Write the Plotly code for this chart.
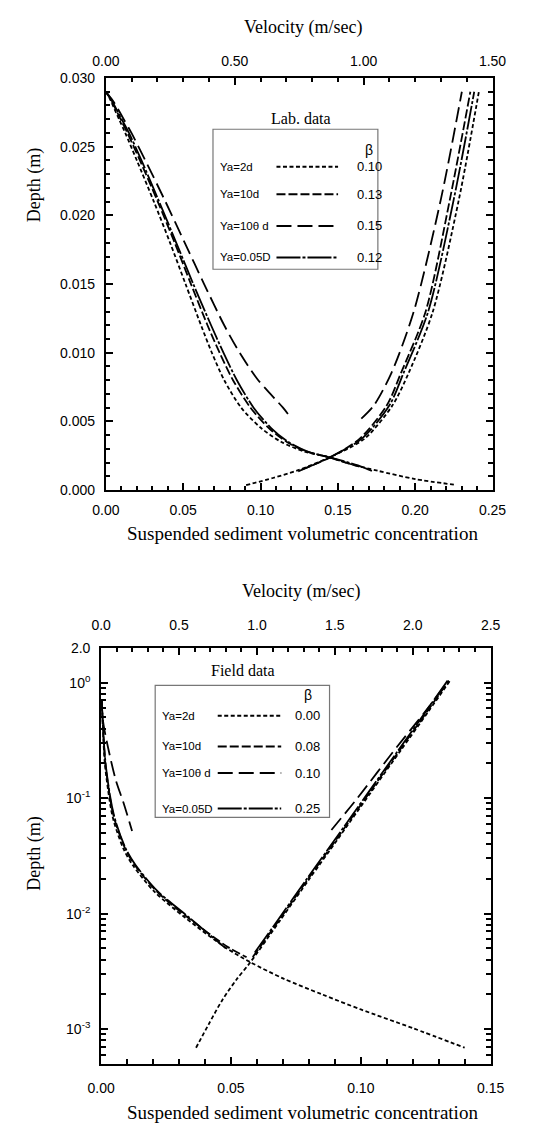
import plotly.graph_objects as go

W, H = 534, 1133

# ---------------- DATA ----------------
# Lab data: concentration profiles (concentration, depth m)
lab_c_2d_conc = [0.0, 0.0025, 0.0045, 0.0085, 0.0125, 0.020, 0.031, 0.0415, 0.0515, 0.0615, 0.0685, 0.0765, 0.0875, 0.1005, 0.1135, 0.1285, 0.144, 0.158, 0.176, 0.200, 0.225]
lab_c_2d_depth = [0.029, 0.0285, 0.028, 0.027, 0.026, 0.024, 0.021, 0.018, 0.015, 0.012, 0.010, 0.008, 0.006, 0.0045, 0.0035, 0.0028, 0.0024, 0.0019, 0.0014, 0.0008, 0.0004]
lab_c_10d_conc = [0.0, 0.0028, 0.0051, 0.0095, 0.0139, 0.022, 0.0335, 0.0445, 0.055, 0.0657, 0.0735, 0.0822, 0.0935, 0.1055, 0.117, 0.130, 0.144, 0.155, 0.164]
lab_c_10d_depth = [0.029, 0.0285, 0.028, 0.027, 0.026, 0.024, 0.021, 0.018, 0.015, 0.012, 0.010, 0.008, 0.006, 0.0045, 0.0035, 0.0028, 0.0024, 0.0020, 0.0017]
lab_c_100d_conc = [0.0, 0.0035, 0.0065, 0.0115, 0.0165, 0.0255, 0.0385, 0.051, 0.0635, 0.0765, 0.0865, 0.0985, 0.1145, 0.120]
lab_c_100d_depth = [0.029, 0.0285, 0.028, 0.027, 0.026, 0.024, 0.021, 0.018, 0.015, 0.012, 0.010, 0.008, 0.006, 0.0052]
lab_c_005D_conc = [0.0, 0.003, 0.0055, 0.0102, 0.0149, 0.023, 0.0344, 0.0455, 0.0565, 0.068, 0.076, 0.0847, 0.0955, 0.107, 0.118, 0.1305, 0.144, 0.163, 0.172]
lab_c_005D_depth = [0.029, 0.0285, 0.028, 0.027, 0.026, 0.024, 0.021, 0.018, 0.015, 0.012, 0.010, 0.008, 0.006, 0.0045, 0.0035, 0.0028, 0.0024, 0.0018, 0.0014]

# Lab data: velocity profiles (m/s, depth m)
lab_v_2d_vel = [0.544, 0.648, 0.746, 0.870, 1.004, 1.112, 1.175, 1.268, 1.370, 1.447]
lab_v_2d_depth = [0.00036, 0.00088, 0.00145, 0.0024, 0.00375, 0.00617, 0.00854, 0.01297, 0.0212, 0.029]
lab_v_10d_vel = [0.760, 0.872, 0.985, 1.090, 1.145, 1.240, 1.335, 1.414]
lab_v_10d_depth = [0.0015, 0.0024, 0.00375, 0.00617, 0.00854, 0.01297, 0.0212, 0.029]
lab_v_100d_vel = [0.991, 1.040, 1.108, 1.194, 1.300, 1.381]
lab_v_100d_depth = [0.0052, 0.00617, 0.00854, 0.01297, 0.0212, 0.029]
lab_v_005D_vel = [0.746, 0.870, 0.993, 1.100, 1.155, 1.250, 1.350, 1.429]
lab_v_005D_depth = [0.00136, 0.0024, 0.00375, 0.00617, 0.00854, 0.01297, 0.0212, 0.029]

# Field data: concentration profiles
field_c_2d_conc = [0.0002, 0.0008, 0.0014, 0.0026, 0.0038, 0.0050, 0.0086, 0.0122, 0.0205, 0.0324, 0.0478, 0.0574, 0.070, 0.085, 0.100, 0.120, 0.140]
field_c_2d_depth = [0.70, 0.34, 0.20, 0.12, 0.080, 0.0614, 0.0363, 0.0262, 0.0155, 0.0092, 0.0051, 0.0038, 0.00275, 0.0020, 0.00148, 0.00102, 0.00069]
field_c_10d_conc = [0.0002, 0.0009, 0.0016, 0.0029, 0.0042, 0.0055, 0.0093, 0.0130, 0.0215, 0.0335, 0.0490, 0.0560]
field_c_10d_depth = [0.70, 0.34, 0.20, 0.12, 0.080, 0.0614, 0.0363, 0.0262, 0.0155, 0.0092, 0.0051, 0.0042]
field_c_100d_conc = [0.0001, 0.0008, 0.0026, 0.0056, 0.0086, 0.0119]
field_c_100d_depth = [0.72, 0.45, 0.277, 0.144, 0.091, 0.052]
field_c_005D_conc = [0.0002, 0.0009, 0.0017, 0.0030, 0.0044, 0.0057, 0.0095, 0.0133, 0.0219, 0.0340, 0.0480]
field_c_005D_depth = [0.70, 0.34, 0.20, 0.12, 0.080, 0.0614, 0.0363, 0.0262, 0.0155, 0.0092, 0.0050]

# Field data: velocity profiles
field_v_2d_vel = [0.609, 0.690, 0.778, 0.870, 0.958, 1.145, 1.338, 1.519, 1.729, 1.923, 2.103, 2.240]
field_v_2d_depth = [0.00069, 0.0011, 0.00179, 0.0027, 0.0038, 0.0086, 0.0201, 0.0442, 0.111, 0.259, 0.569, 1.04]
field_v_10d_vel = [0.973, 1.137, 1.330, 1.511, 1.721, 1.915, 2.095, 2.232]
field_v_10d_depth = [0.0042, 0.0086, 0.0201, 0.0442, 0.111, 0.259, 0.569, 1.04]
field_v_100d_vel = [1.478, 1.645, 1.898, 2.075, 2.226]
field_v_100d_depth = [0.053, 0.100, 0.277, 0.55, 1.02]
field_v_005D_vel = [0.986, 1.129, 1.322, 1.503, 1.713, 1.907, 2.087, 2.224]
field_v_005D_depth = [0.0046, 0.0086, 0.0201, 0.0442, 0.111, 0.259, 0.569, 1.04]

# Legend texts
series_names = ["Ya=2d", "Ya=10d", "Ya=10θ d", "Ya=0.05D"]
lab_beta = ["0.10", "0.13", "0.15", "0.12"]
field_beta = ["0.00", "0.08", "0.10", "0.25"]

# Tick values
log_major_vals = [0.001, 0.01, 0.1, 1, 2]
log_major_text = ["10<sup>-3</sup>", "10<sup>-2</sup>", "10<sup>-1</sup>", "10<sup>0</sup>", "2.0"]
log_minor_vals = [m * 10 ** e for e in (-4, -3, -2, -1) for m in range(2, 10) if 5e-4 <= m * 10 ** e <= 2]

# ---------------- STYLES ----------------
dashes = ["4px,2.5px", "9px,3px", "15px,6px", "24px,2px,3px,2px"]
LW = 1.8
TICKFONT = dict(family="Liberation Sans, Arial, sans-serif", size=14, color="black")
SERIF = "Liberation Serif, Times New Roman, serif"
SANS = "Liberation Sans, Arial, sans-serif"

fig = go.Figure()

lab_conc = [(lab_c_2d_conc, lab_c_2d_depth), (lab_c_10d_conc, lab_c_10d_depth),
            (lab_c_100d_conc, lab_c_100d_depth), (lab_c_005D_conc, lab_c_005D_depth)]
lab_vel = [(lab_v_2d_vel, lab_v_2d_depth), (lab_v_10d_vel, lab_v_10d_depth),
           (lab_v_100d_vel, lab_v_100d_depth), (lab_v_005D_vel, lab_v_005D_depth)]
field_conc = [(field_c_2d_conc, field_c_2d_depth), (field_c_10d_conc, field_c_10d_depth),
              (field_c_100d_conc, field_c_100d_depth), (field_c_005D_conc, field_c_005D_depth)]
field_vel = [(field_v_2d_vel, field_v_2d_depth), (field_v_10d_vel, field_v_10d_depth),
             (field_v_100d_vel, field_v_100d_depth), (field_v_005D_vel, field_v_005D_depth)]

for i in range(4):
    ln = dict(color="black", width=LW, dash=dashes[i], shape="spline", smoothing=0.8)
    fig.add_trace(go.Scatter(x=lab_conc[i][0], y=lab_conc[i][1], mode="lines", line=ln,
                             xaxis="x", yaxis="y", showlegend=False, name=series_names[i]))
    fig.add_trace(go.Scatter(x=lab_vel[i][0], y=lab_vel[i][1], mode="lines", line=ln,
                             xaxis="x2", yaxis="y", showlegend=False, name=series_names[i]))
    fig.add_trace(go.Scatter(x=field_conc[i][0], y=field_conc[i][1], mode="lines", line=ln,
                             xaxis="x3", yaxis="y2", showlegend=False, name=series_names[i]))
    fig.add_trace(go.Scatter(x=field_vel[i][0], y=field_vel[i][1], mode="lines", line=ln,
                             xaxis="x4", yaxis="y2", showlegend=False, name=series_names[i]))

# invisible anchor trace so the minor-tick log axis is drawn
fig.add_trace(go.Scatter(x=[0.0], y=[1.0], xaxis="x3", yaxis="y3", mode="markers",
                         marker=dict(opacity=0), hoverinfo="skip", showlegend=False))


def pxx(x):
    return x / W


def pxy(y):
    return 1 - y / H


top_x = [pxx(97), pxx(505)]
top_y = [pxy(489), pxy(71)]
bot_x = [pxx(92), pxx(503)]
bot_y = [pxy(1071), pxy(649)]

common = dict(showline=True, linecolor="black", linewidth=2, ticks="inside", ticklen=7,
              tickwidth=1.8, tickcolor="black", showgrid=False, zeroline=False,
              tickfont=TICKFONT, fixedrange=True)


def minor_lin(d):
    return dict(tick0=0, dtick=d, ticks="inside", ticklen=4.5, tickwidth=1.6,
                tickcolor="black", showgrid=False)


fig.update_layout(
    width=W, height=H, margin=dict(l=0, r=0, t=0, b=0),
    paper_bgcolor="white", plot_bgcolor="white", showlegend=False,
    xaxis=dict(domain=top_x, anchor="y", range=[0, 0.25], tick0=0, dtick=0.05, tickformat=".2f",
               minor=minor_lin(0.01), ticklabelstandoff=6, **common),
    xaxis2=dict(overlaying="x", anchor="y", side="top", range=[0, 1.5], tick0=0, dtick=0.5,
                tickformat=".2f", minor=minor_lin(0.1), ticklabelstandoff=4, **common),
    yaxis=dict(domain=top_y, anchor="x", range=[0, 0.030], tick0=0, dtick=0.005, tickformat=".3f",
               minor=minor_lin(0.001), mirror="ticks", ticklabelstandoff=6, **common),
    xaxis3=dict(domain=bot_x, anchor="y2", range=[0, 0.15], tick0=0, dtick=0.05, tickformat=".2f",
                minor=minor_lin(0.01), ticklabelstandoff=10, **common),
    xaxis4=dict(overlaying="x3", anchor="y2", side="top", range=[0, 2.5], tick0=0, dtick=0.5,
                tickformat=".1f", minor=minor_lin(0.1), ticklabelstandoff=10, **common),
    yaxis2=dict(domain=bot_y, anchor="x3", type="log", range=[-3.30103, 0.30103],
                tickmode="array", tickvals=log_major_vals, ticktext=log_major_text,
                mirror="ticks", ticklabelstandoff=6, **common),
    yaxis3=dict(overlaying="y2", anchor="x3", type="log", range=[-3.30103, 0.30103],
                tickmode="array", tickvals=log_minor_vals, showticklabels=False,
                showline=True, linecolor="black", linewidth=2, ticks="inside", ticklen=4.5,
                tickwidth=1.6, tickcolor="black", mirror="ticks", showgrid=False,
                zeroline=False, fixedrange=True),
)

ann = []
shapes = []


def text(x, y, s, size, family, rot=0, xanchor="center"):
    ann.append(dict(x=pxx(x), y=pxy(y), xref="paper", yref="paper", text=s, showarrow=False,
                    xanchor=xanchor, yanchor="middle", textangle=rot,
                    font=dict(family=family, size=size, color="black")))


# Axis titles
text(305, 20, "Velocity (m/sec)", 18, SERIF)
text(304, 533, "Suspended sediment volumetric concentration", 19, SERIF)
text(22, 180, "Depth (m)", 18, SERIF, rot=-90)
text(303, 592, "Velocity (m/sec)", 18, SERIF)
text(304, 1120, "Suspended sediment volumetric concentration", 19, SERIF)
text(22, 858, "Depth (m)", 18, SERIF, rot=-90)


def legend_box(x0, x1, y0, y1, title, title_xy, beta_xy, rows_y, lab_x, samp, val_x, betas):
    shapes.append(dict(type="rect", xref="paper", yref="paper", x0=pxx(x0), x1=pxx(x1),
                       y0=pxy(y1), y1=pxy(y0), line=dict(color="#777777", width=1.2),
                       fillcolor="white", layer="above"))
    text(title_xy[0], title_xy[1], title, 16, SERIF)
    text(beta_xy[0], beta_xy[1], "β", 14, SANS)
    for i, yy in enumerate(rows_y):
        text(lab_x, yy, series_names[i], 11.5, SANS, xanchor="left")
        shapes.append(dict(type="line", xref="paper", yref="paper", x0=pxx(samp[0]), x1=pxx(samp[1]),
                           y0=pxy(yy), y1=pxy(yy), line=dict(color="black", width=2, dash=dashes[i]),
                           layer="above"))
        text(val_x, yy, betas[i], 13, SANS)


legend_box(210, 384, 123, 265, "Lab. data", (303, 112), (375, 144),
           [161, 189, 221, 253], 215, (277, 342), 375, lab_beta)
legend_box(149, 333, 687, 821, "Field data", (242, 672), (310, 697),
           [718, 749, 776, 812], 154, (215, 282), 310, field_beta)

fig.update_layout(annotations=ann, shapes=shapes)
fig.write_html("out.html")
